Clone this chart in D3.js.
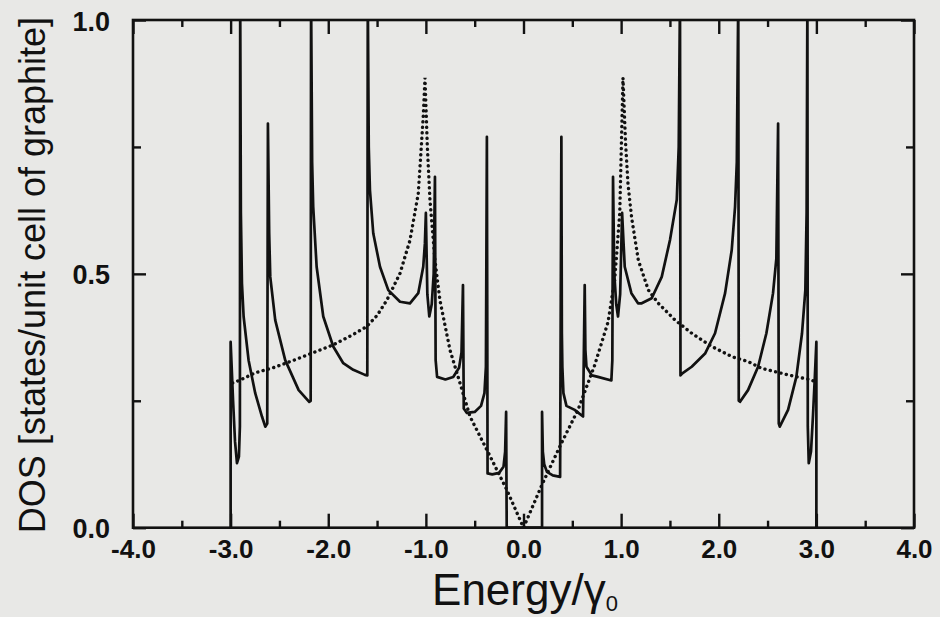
<!DOCTYPE html>
<meta charset="utf-8">
<style>
body { margin: 0; background: #e8e8e6; }
svg text { font-family: "Liberation Sans", Arial, Helvetica, sans-serif; fill: #111; }
.tick line { stroke: #111; stroke-width: 2.4; }
</style>
<svg width="940" height="617"></svg>
<script src="https://d3js.org/d3.v7.min.js"></script>
<script>
// tick values
var energyTicks = [-4, -3, -2, -1, 0, 1, 2, 3, 4]
var energyMinorTicks = [-3.5, -2.5, -1.5, -0.5, 0.5, 1.5, 2.5, 3.5]
var dosTicks = [0, 0.5, 1]
var dosMinorTicks = [0.25, 0.75]

// solid curve: nanotube DOS, [energy, dos]
var tubeDos = [
  [-3.000, 0.000], [-3.000, 0.366], [-2.975, 0.250], [-2.955, 0.170], [-2.935, 0.127],
  [-2.915, 0.140], [-2.905, 0.200], [-2.902, 1.050], [-2.895, 0.620], [-2.884, 0.481],
  [-2.867, 0.416], [-2.816, 0.330], [-2.748, 0.265], [-2.679, 0.219], [-2.645, 0.199],
  [-2.625, 0.205], [-2.618, 0.796], [-2.605, 0.580], [-2.594, 0.494], [-2.543, 0.409],
  [-2.441, 0.330], [-2.303, 0.271], [-2.195, 0.248], [-2.180, 0.250], [-2.176, 1.050],
  [-2.165, 0.720], [-2.154, 0.632], [-2.119, 0.514], [-2.051, 0.416], [-1.949, 0.357],
  [-1.846, 0.324], [-1.744, 0.311], [-1.624, 0.301], [-1.600, 0.300], [-1.595, 1.050],
  [-1.585, 0.750], [-1.573, 0.665], [-1.539, 0.580], [-1.470, 0.514], [-1.385, 0.468],
  [-1.265, 0.445], [-1.163, 0.442], [-1.078, 0.462], [-1.027, 0.514], [-1.010, 0.560],
  [-1.000, 0.620], [-0.985, 0.460], [-0.965, 0.416], [-0.940, 0.440], [-0.920, 0.500],
  [-0.907, 0.691], [-0.900, 0.330], [-0.885, 0.297], [-0.800, 0.292], [-0.720, 0.297],
  [-0.660, 0.315], [-0.635, 0.345], [-0.620, 0.478], [-0.612, 0.235], [-0.580, 0.226],
  [-0.500, 0.228], [-0.435, 0.240], [-0.400, 0.265], [-0.385, 0.317], [-0.375, 0.770],
  [-0.368, 0.107], [-0.320, 0.105], [-0.250, 0.108], [-0.205, 0.120], [-0.188, 0.150],
  [-0.178, 0.228], [-0.172, 0.000], [0.190, 0.000], [0.190, 0.228], [0.198, 0.150],
  [0.212, 0.125], [0.240, 0.110], [0.300, 0.103], [0.375, 0.100], [0.388, 0.770],
  [0.393, 0.383], [0.398, 0.317], [0.409, 0.265], [0.440, 0.240], [0.524, 0.232],
  [0.610, 0.219], [0.627, 0.478], [0.634, 0.350], [0.645, 0.317], [0.700, 0.300],
  [0.763, 0.297], [0.900, 0.290], [0.910, 0.330], [0.917, 0.691], [0.930, 0.500],
  [0.950, 0.440], [0.968, 0.416], [0.990, 0.460], [1.010, 0.620], [1.025, 0.560],
  [1.037, 0.514], [1.105, 0.462], [1.173, 0.442], [1.211, 0.442], [1.313, 0.452],
  [1.416, 0.494], [1.501, 0.567], [1.570, 0.646], [1.590, 0.750], [1.603, 1.050],
  [1.608, 0.300], [1.627, 0.304], [1.723, 0.317], [1.860, 0.343], [1.962, 0.383],
  [2.065, 0.462], [2.133, 0.547], [2.167, 0.632], [2.185, 0.720], [2.200, 1.050],
  [2.205, 0.250], [2.218, 0.248], [2.300, 0.271], [2.403, 0.317], [2.488, 0.383],
  [2.556, 0.462], [2.590, 0.530], [2.608, 0.796], [2.615, 0.205], [2.625, 0.199],
  [2.710, 0.232], [2.795, 0.297], [2.853, 0.383], [2.887, 0.468], [2.900, 0.620],
  [2.908, 1.050], [2.912, 0.200], [2.922, 0.127], [2.945, 0.150], [2.965, 0.220],
  [2.985, 0.300], [3.000, 0.366], [3.000, 0.000]
]

// dotted curve: graphite DOS, [energy, dos]
var graphiteDos = [
  [-2.980, 0.285], [-2.900, 0.291], [-2.750, 0.305], [-2.550, 0.316], [-2.350, 0.330],
  [-2.150, 0.345], [-1.950, 0.360], [-1.750, 0.380], [-1.607, 0.396], [-1.500, 0.418],
  [-1.400, 0.448], [-1.265, 0.501], [-1.163, 0.566], [-1.078, 0.658], [-1.027, 0.810],
  [-1.009, 0.886], [-0.985, 0.750], [-0.958, 0.645], [-0.907, 0.527], [-0.856, 0.448],
  [-0.753, 0.350], [-0.651, 0.285], [-0.548, 0.219], [-0.377, 0.154], [-0.172, 0.075],
  [0.000, 0.000], [0.190, 0.085], [0.387, 0.166], [0.558, 0.232], [0.729, 0.320],
  [0.866, 0.405], [0.934, 0.488], [0.986, 0.620], [1.019, 0.886], [1.045, 0.760],
  [1.070, 0.678], [1.108, 0.610], [1.176, 0.527], [1.279, 0.468], [1.381, 0.442],
  [1.552, 0.409], [1.723, 0.383], [1.928, 0.357], [2.133, 0.337], [2.303, 0.327],
  [2.437, 0.314], [2.710, 0.301], [2.949, 0.291], [2.980, 0.288]
]

const svg = d3.select('svg')
const plotLeft = 133, plotRight = 914, plotTop = 20, plotBottom = 527.7

const x = d3.scaleLinear().domain([-4, 4]).range([plotLeft, plotRight])
const y = d3.scaleLinear().domain([0, 1]).range([plotBottom, plotTop])
const fmt = d => d.toFixed(1)

svg.append('defs').append('clipPath').attr('id', 'plot')
  .append('rect')
  .attr('x', plotLeft).attr('y', plotTop)
  .attr('width', plotRight - plotLeft).attr('height', plotBottom - plotTop)

const line = d3.line().x(d => x(d[0])).y(d => y(d[1]))

const curves = svg.append('g').attr('clip-path', 'url(#plot)')

curves.append('path')
  .datum(graphiteDos)
  .attr('fill', 'none')
  .attr('stroke', '#111')
  .attr('stroke-width', 3.4)
  .attr('stroke-linecap', 'round')
  .attr('stroke-dasharray', '0.1,5.4')
  .attr('d', line)

curves.append('path')
  .datum(tubeDos)
  .attr('fill', 'none')
  .attr('stroke', '#111')
  .attr('stroke-width', 2.7)
  .attr('stroke-linejoin', 'round')
  .attr('d', line)

// inward ticks on all four sides
function addAxis(axis, tx, ty, labels) {
  const g = svg.append('g')
    .attr('transform', 'translate(' + tx + ',' + ty + ')')
    .call(axis)
  g.select('.domain').remove()
  if (!labels) g.selectAll('text').remove()
  return g
}

const xBottom = addAxis(d3.axisBottom(x).tickValues(energyTicks).tickSize(-14).tickSizeOuter(0).tickFormat(fmt), 0, plotBottom, true)
xBottom.selectAll('text')
  .attr('y', 30.5).attr('dy', 0)
  .attr('font-size', 26).attr('font-weight', 'bold')
addAxis(d3.axisBottom(x).tickValues(energyMinorTicks).tickSize(-7).tickSizeOuter(0), 0, plotBottom, false)
addAxis(d3.axisTop(x).tickValues(energyTicks).tickSize(-14).tickSizeOuter(0), 0, plotTop, false)
addAxis(d3.axisTop(x).tickValues(energyMinorTicks).tickSize(-7).tickSizeOuter(0), 0, plotTop, false)

const yLeft = addAxis(d3.axisLeft(y).tickValues(dosTicks).tickSize(-13).tickSizeOuter(0).tickFormat(fmt), plotLeft, 0, true)
yLeft.selectAll('text')
  .attr('x', -23).attr('dy', '0.37em')
  .attr('font-size', 27).attr('font-weight', 'bold')
addAxis(d3.axisLeft(y).tickValues(dosMinorTicks).tickSize(-8).tickSizeOuter(0), plotLeft, 0, false)
addAxis(d3.axisRight(y).tickValues(dosTicks).tickSize(-13).tickSizeOuter(0), plotRight, 0, false)
addAxis(d3.axisRight(y).tickValues(dosMinorTicks).tickSize(-8).tickSizeOuter(0), plotRight, 0, false)

svg.selectAll('.tick text').attr('fill', '#111')

// frame
svg.append('rect')
  .attr('x', plotLeft).attr('y', plotTop)
  .attr('width', plotRight - plotLeft).attr('height', plotBottom - plotTop)
  .attr('fill', 'none')
  .attr('stroke', '#111')
  .attr('stroke-width', 2.6)

// axis titles
const xTitle = svg.append('text')
  .attr('x', 525).attr('y', 605)
  .attr('text-anchor', 'middle')
  .attr('font-size', 44)
xTitle.append('tspan').text('Energy/γ')
xTitle.append('tspan').attr('font-size', 22).attr('dy', 6).text('0')

svg.append('text')
  .attr('transform', 'translate(45,275) rotate(-90)')
  .attr('text-anchor', 'middle')
  .attr('font-size', 36)
  .text('DOS [states/unit cell of graphite]')
</script>
